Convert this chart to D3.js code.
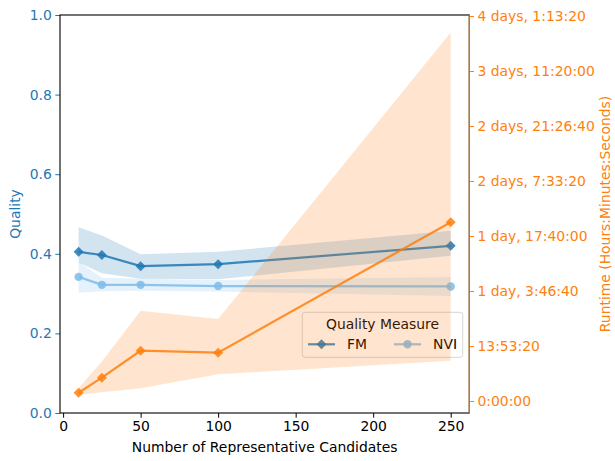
<!DOCTYPE html>
<html>
<head>
<meta charset="utf-8">
<script src="https://cdn.jsdelivr.net/npm/d3@7"></script>
<style>
  body { margin: 0; background: #fff; }
  text { font-family: "DejaVu Sans", sans-serif; }
</style>
</head>
<body>
<svg id="chart"></svg>
<script>
// data
const candidates = [10, 25, 50, 100, 250];
const fmQuality = [0.405, 0.397, 0.369, 0.374, 0.420];
const fmLow = [0.378, 0.351, 0.337, 0.336, 0.395];
const fmHigh = [0.467, 0.446, 0.399, 0.405, 0.458];
const nviQuality = [0.342, 0.322, 0.322, 0.319, 0.318];
const nviLow = [0.302, 0.306, 0.307, 0.305, 0.294];
const nviHigh = [0.380, 0.340, 0.337, 0.334, 0.342];
const runtimeSeconds = [7500, 21200, 45700, 43900, 162500];
const runtimeLow = [5500, 8000, 11500, 24300, 36600];
const runtimeHigh = [11500, 36000, 82000, 74500, 335000];
const xTicks = [0, 50, 100, 150, 200, 250];
const qualityTicks = [0, 0.2, 0.4, 0.6, 0.8, 1.0];
const runtimeTicks = [0, 50000, 100000, 150000, 200000, 250000, 300000, 350000];

const width = 615, height = 461;
const marginLeft = 60, plotRight = 469.3, marginTop = 15, plotBottom = 413;
const blue = "#1f77b4", orange = "#ff7f0e";
const fmColor = "#1f77b4", nviColor = "#7dbcea";
const fontSize = 13.9;

// python timedelta style: "1 day, 3:46:40"
function fmtDuration(s) {
  const days = Math.floor(s / 86400);
  let r = s - days * 86400;
  const h = Math.floor(r / 3600); r -= h * 3600;
  const m = Math.floor(r / 60); const sec = Math.round(r - m * 60);
  const hms = `${h}:${String(m).padStart(2, "0")}:${String(sec).padStart(2, "0")}`;
  if (days === 0) return hms;
  return `${days} day${days > 1 ? "s" : ""}, ${hms}`;
}

const svg = d3.select("#chart").attr("width", width).attr("height", height);
svg.append("rect").attr("width", width).attr("height", height).attr("fill", "#fff");

const x = d3.scaleLinear().domain([-2, 262]).range([marginLeft, plotRight]);
const yQ = d3.scaleLinear().domain([0, 1]).range([plotBottom, marginTop]);
const yR = d3.scaleLinear().domain([-10909, 350909]).range([plotBottom, marginTop]);

const diamond = r => `M0,${-r}L${r},0L0,${r}L${-r},0Z`;

function band(lo, hi, ys) {
  return d3.area()
    .x((d, i) => x(candidates[i]))
    .y0((d, i) => ys(lo[i]))
    .y1((d, i) => ys(hi[i]))(candidates);
}
function path(vals, ys) {
  return d3.line().x((d, i) => x(candidates[i])).y((d, i) => ys(vals[i]))(candidates);
}

// quality axis content
const g1 = svg.append("g");
g1.append("path").attr("d", band(fmLow, fmHigh, yQ)).attr("fill", fmColor).attr("fill-opacity", 0.2);
g1.append("path").attr("d", band(nviLow, nviHigh, yQ)).attr("fill", nviColor).attr("fill-opacity", 0.2);

function drawSeries(g, vals, ys, color, marker) {
  g.append("path").attr("d", path(vals, ys)).attr("fill", "none")
    .attr("stroke", color).attr("stroke-opacity", 0.85).attr("stroke-width", 2.2);
  vals.forEach((v, i) => {
    if (marker === "D") {
      g.append("path").attr("d", diamond(5))
        .attr("transform", `translate(${x(candidates[i])},${ys(v)})`)
        .attr("fill", color).attr("fill-opacity", 0.85);
    } else {
      g.append("circle").attr("cx", x(candidates[i])).attr("cy", ys(v)).attr("r", 4.2)
        .attr("fill", color).attr("fill-opacity", 0.85);
    }
  });
}
drawSeries(g1, fmQuality, yQ, fmColor, "D");
drawSeries(g1, nviQuality, yQ, nviColor, "o");

// legend (belongs to the quality axis, so the runtime band is drawn over it)
const lg = svg.append("g");
lg.append("rect").attr("x", 302.3).attr("y", 312.3).attr("width", 160.4).attr("height", 45)
  .attr("rx", 2.7).attr("fill", "#fff").attr("fill-opacity", 0.8)
  .attr("stroke", "#cccccc").attr("stroke-opacity", 0.8);
lg.append("text").attr("x", 382.5).attr("y", 329).attr("text-anchor", "middle")
  .attr("font-size", fontSize).attr("fill", "#000").text("Quality Measure");
[["FM", fmColor, "D", 308], ["NVI", nviColor, "o", 394]].forEach(([name, c, m, lx]) => {
  const ly = 344.3;
  lg.append("line").attr("x1", lx).attr("x2", lx + 27).attr("y1", ly).attr("y2", ly)
    .attr("stroke", c).attr("stroke-opacity", 0.85).attr("stroke-width", 2.2);
  if (m === "D") lg.append("path").attr("d", diamond(5)).attr("transform", `translate(${lx + 13.5},${ly})`)
    .attr("fill", c).attr("fill-opacity", 0.85);
  else lg.append("circle").attr("cx", lx + 13.5).attr("cy", ly).attr("r", 4.2)
    .attr("fill", c).attr("fill-opacity", 0.85);
  lg.append("text").attr("x", lx + 39).attr("y", ly + 5).attr("font-size", fontSize)
    .attr("fill", "#000").text(name);
});

// quality axes
const axX = svg.append("g").attr("transform", `translate(0,${plotBottom})`)
  .call(d3.axisBottom(x).tickValues(xTicks).tickSize(4.7).tickPadding(3.5).tickFormat(d3.format("d")));
const axL = svg.append("g").attr("transform", `translate(${marginLeft},0)`)
  .call(d3.axisLeft(yQ).tickValues(qualityTicks).tickSize(4.7).tickPadding(3.5).tickFormat(d3.format(".1f")));
[axX, axL].forEach(a => { a.select(".domain").remove(); a.selectAll("text").attr("font-size", fontSize).attr("font-family", "DejaVu Sans"); });
axX.selectAll("line").attr("stroke", "#000").attr("stroke-width", 1);
axX.selectAll("text").attr("fill", "#000");
axL.selectAll("line").attr("stroke", blue).attr("stroke-width", 1);
axL.selectAll("text").attr("fill", blue);

svg.append("rect").attr("x", marginLeft).attr("y", marginTop)
  .attr("width", plotRight - marginLeft).attr("height", plotBottom - marginTop)
  .attr("fill", "none").attr("stroke", "#000").attr("stroke-width", 1.1);

// runtime axis content
const g2 = svg.append("g");
g2.append("path").attr("d", band(runtimeLow, runtimeHigh, yR)).attr("fill", orange).attr("fill-opacity", 0.2);
drawSeries(g2, runtimeSeconds, yR, orange, "D");

const axR = svg.append("g").attr("transform", `translate(${plotRight},0)`)
  .call(d3.axisRight(yR).tickValues(runtimeTicks).tickSize(4.7).tickPadding(3.5).tickFormat(fmtDuration));
axR.select(".domain").remove();
axR.selectAll("line").attr("stroke", orange).attr("stroke-width", 1);
axR.selectAll("text").attr("fill", orange).attr("font-size", fontSize).attr("font-family", "DejaVu Sans");
svg.append("line").attr("x1", plotRight).attr("x2", plotRight).attr("y1", marginTop).attr("y2", plotBottom)
  .attr("stroke", "#d0792a").attr("stroke-width", 1.3);

// axis titles
svg.append("text").attr("x", (marginLeft + plotRight) / 2).attr("y", 452).attr("text-anchor", "middle")
  .attr("font-size", fontSize).attr("fill", "#000").text("Number of Representative Candidates");
svg.append("text").attr("transform", `translate(19.5,${(marginTop + plotBottom) / 2}) rotate(-90)`)
  .attr("text-anchor", "middle").attr("font-size", fontSize).attr("fill", blue).text("Quality");
svg.append("text").attr("transform", `translate(610,${(marginTop + plotBottom) / 2}) rotate(-90)`)
  .attr("text-anchor", "middle").attr("font-size", fontSize).attr("fill", orange)
  .text("Runtime (Hours:Minutes:Seconds)");
</script>
</body>
</html>
